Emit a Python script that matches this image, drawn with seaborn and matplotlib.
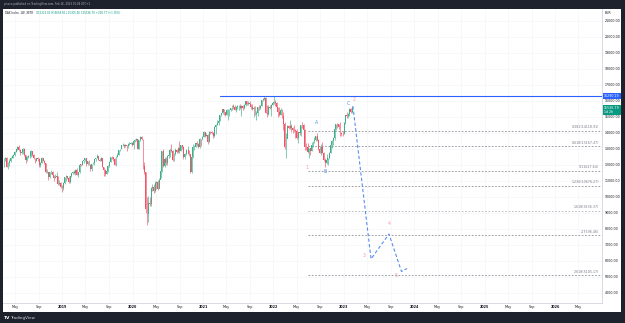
import numpy as np
import pandas as pd
import matplotlib
matplotlib.use('Agg')
import matplotlib.pyplot as plt
import matplotlib.dates as mdates
from matplotlib.patches import Rectangle
import seaborn as sns

# DAX weekly candles (one line per month)
first_open = 11913
closes = [
    # 2018
    12346, 12390, 11886, 12096,
    12241, 12442, 12540, 12580,
    12820, 12977, 13077, 12938,
    12724, 12766, 13010, 12580, 12306,
    12496, 12541, 12561, 12860,
    12615, 12424, 12210, 12394, 12364,
    11959, 12124, 12430, 12247,
    12111, 11524, 11554, 11201,
    11519, 11529, 11341, 11193, 11257,
    11271, 10788, 10866, 10634, 10559,
    # 2019
    10887, 11205, 11282, 11173,
    10907, 11299, 11457, 11516,
    11457, 11686, 11364, 11526,
    12010, 11999, 12222, 12315, 12412,
    12059, 12239, 12011, 11727,
    12045, 12096, 12340, 12399,
    12568, 12323, 12260, 12419, 11872,
    11694, 11412, 11611, 11939,
    12191, 12468, 12457, 12381, 12012,
    12511, 12633, 12894, 12961,
    13229, 13241, 13164, 13236,
    13166, 13282, 13318, 13337, 13219,
    # 2020
    13483, 13526, 13576, 12982,
    13513, 13745, 13579, 11890,
    11542, 9232, 8929, 9633, 9525,
    10565, 10626, 10336, 10862,
    10904, 10465, 11074, 11587,
    12848, 11949, 12331, 12089, 12528,
    12633, 12919, 12838, 12313,
    12674, 12901, 12765, 13033, 12842,
    13203, 13116, 12469, 12689,
    12906, 12909, 12645, 11556,
    12480, 13077, 13137, 13335, 13298,
    13114, 13630, 13587, 13719,
    # 2021
    14050, 13788, 13874, 13433,
    14056, 14050, 13993, 13786,
    14380, 14502, 14621, 14749, 15107,
    15234, 15460, 15280, 15136,
    15400, 15417, 15437, 15520, 15693,
    15581, 15448, 15607, 15650,
    15688, 15540, 15669, 15544,
    15761, 15977, 15808, 15852, 15781,
    15609, 15490, 15531, 15156,
    15206, 15587, 15543, 15688,
    16054, 16094, 16160, 15257, 15169,
    15623, 15531, 15756, 15885,
    # 2022
    15948, 15883, 15603, 15318, 15100,
    15425, 15042, 14567, 13094,
    13628, 14413, 14305, 14446,
    14284, 14163, 14143, 14098,
    13674, 14027, 13982, 14462, 14461,
    14199, 13127, 13119, 12813,
    13016, 12864, 13254, 13484,
    13573, 13795, 13544, 12971, 12761,
    13088, 12741, 12284, 12114,
    12273, 12438, 12731, 13243, 13460,
    13688, 14224, 14541, 14529,
    14371, 13986, 13940, 13924,
    # 2023
    14610, 15087, 15033, 15150, 15476, 15268, 15536.79,
]
highs = [
    # 2018
    12400, 12500, 12470, 12150,
    12360, 12480, 12600, 12670,
    12880, 13000, 13170, 13200,
    12960, 12880, 13030, 13060, 12590,
    12560, 12600, 12640, 12890,
    12880, 12670, 12430, 12440, 12450,
    12400, 12140, 12460, 12440,
    12290, 12130, 11720, 11560,
    11560, 11650, 11580, 11360, 11400,
    11560, 11280, 11040, 10920, 10700,
    # 2019
    10920, 11240, 11330, 11310,
    11290, 11320, 11470, 11620,
    11650, 11700, 11800, 11560,
    12030, 12060, 12240, 12320, 12440,
    12440, 12260, 12300, 12040,
    12070, 12140, 12370, 12420,
    12660, 12560, 12440, 12500, 12430,
    11880, 11760, 11740, 11950,
    12230, 12480, 12520, 12500, 12440,
    12520, 12700, 12930, 13000,
    13250, 13370, 13290, 13300,
    13240, 13330, 13420, 13440, 13390,
    # 2020
    13550, 13600, 13640, 13600,
    13570, 13800, 13800, 13590,
    12160, 11560, 9950, 10060, 9980,
    10580, 10820, 10790, 11000,
    10990, 11050, 11180, 11780,
    12870, 12950, 12480, 12480, 12630,
    12740, 13050, 13320, 12900,
    12700, 13060, 12950, 13080, 13460,
    13240, 13260, 13180, 12750,
    12960, 13140, 12930, 12680,
    12540, 13300, 13230, 13350, 13460,
    13370, 13660, 13630, 13800,
    # 2021
    14130, 14040, 14000, 13900,
    14080, 14110, 14110, 14060,
    14400, 14570, 14800, 14770, 15110,
    15250, 15500, 15500, 15320,
    15460, 15460, 15480, 15570, 15730,
    15800, 15730, 15650, 15700,
    15700, 15810, 15700, 15700,
    15790, 15990, 15980, 15950, 15990,
    15810, 15770, 15650, 15660,
    15330, 15600, 15700, 15740,
    16060, 16150, 16290, 16250, 15700,
    15750, 15750, 15800, 15920,
    # 2022
    16280, 16060, 15930, 15620, 15630,
    15530, 15470, 15290, 14680,
    13950, 14480, 14500, 14820,
    14560, 14380, 14470, 14210,
    14200, 14030, 14230, 14470, 14680,
    14560, 14240, 13330, 13340,
    13060, 13020, 13390, 13490,
    13700, 13800, 13950, 13590, 13180,
    13310, 13410, 12780, 12430,
    12670, 12440, 12800, 13300, 13520,
    13700, 14350, 14560, 14600,
    14530, 14680, 14050, 14090,
    # 2023
    14640, 15100, 15270, 15230, 15530, 15520, 15658.81,
]
lows = [
    # 2018
    11830, 12250, 11840, 11730,
    11930, 12180, 12400, 12440,
    12530, 12800, 12930, 12850,
    12600, 12650, 12680, 12550, 12100,
    12250, 12420, 12430, 12500,
    12560, 12330, 12100, 12200, 12250,
    11870, 11860, 12100, 12200,
    12030, 11450, 11450, 11050,
    11170, 11400, 11230, 11010, 11140,
    11120, 10750, 10700, 10560, 10280,
    # 2019
    10390, 10800, 11000, 11100,
    10860, 10880, 11230, 11440,
    11420, 11380, 11330, 11240,
    11500, 11900, 11980, 12100, 12260,
    11900, 11960, 11950, 11620,
    11620, 12020, 11990, 12220,
    12390, 12300, 12200, 12230, 11840,
    11270, 11270, 11390, 11520,
    11840, 12140, 12360, 12230, 11980,
    11900, 12490, 12600, 12870,
    12950, 13140, 13050, 13100,
    12870, 13020, 13230, 13280, 13180,
    # 2020
    12950, 13390, 13460, 12950,
    12960, 13450, 13560, 11720,
    11400, 9000, 8255, 8430, 9400,
    9400, 10350, 10220, 10320,
    10470, 10420, 10700, 11140,
    11550, 11850, 11830, 11990, 12000,
    12400, 12500, 12800, 12250,
    12240, 12600, 12700, 12700, 12700,
    12830, 13000, 12340, 12370,
    12590, 12690, 12550, 11450,
    11500, 12400, 12900, 13080, 13160,
    13020, 13060, 13140, 13550,
    # 2021
    13700, 13750, 13770, 13310,
    13430, 13930, 13890, 13660,
    13700, 13920, 14490, 14450, 14750,
    15030, 15150, 15100, 15040,
    15100, 14820, 15050, 15340, 15420,
    15490, 15430, 15300, 15450,
    15400, 15500, 15050, 15400,
    15480, 15690, 15720, 15750, 15700,
    15480, 15440, 15000, 15090,
    14820, 15070, 15430, 15450,
    15680, 15950, 16030, 15200, 15000,
    15080, 15450, 15060, 15750,
    # 2022
    15790, 15670, 15480, 14960, 15050,
    15080, 14930, 14140, 13000,
    12440, 13650, 14200, 14260,
    14060, 13980, 14040, 13690,
    13600, 13380, 13830, 13800, 14300,
    14170, 12940, 12930, 12700,
    12400, 12620, 12840, 13090,
    13330, 13500, 13500, 12940, 12700,
    12630, 12700, 12250, 11860,
    12050, 11950, 12340, 12700, 13040,
    13200, 13560, 14140, 14300,
    14200, 13800, 13790, 13780,
    # 2023
    13920, 14560, 14900, 14920, 15050, 15220, 15260,
]
last_bar = '2023-02-13'

# drawings
ath_price = 16290.19
ath_start = '2021-03-28'
fib_start = '2022-06-29'
fib_ratios = ['0.382', '0.618', '1', '1.236', '1.618', '2', '2.618']
fib_prices = [14118.91, 13167.47, 11627.64, 10676.27, 9136.37, 7596.46, 5105.17]
path_dates = ['2023-02-17', '2023-05-22', '2023-08-23', '2023-10-27', '2023-11-25']
path_prices = [15662, 6106, 7669, 5325, 5513]
wave_text = ['1', 'A', 'B', 'C', '2', '3', '4', '5']
wave_dates = ['2022-06-25', '2022-08-14', '2022-09-27', '2023-01-23',
              '2023-02-21', '2023-04-17', '2023-08-25', '2023-09-29']
wave_prices = [11856, 14650, 11544, 15838, 16044, 6294, 8294, 5044]

title = 'DAX Index, 1W, XETR'
ohlc_text = 'O15323.06 H15658.81 L15305.56 C15536.79 +268.77 (+1.76%)'
header = 'pisoco published on TradingView.com, Feb 16, 2023 15:04 UTC+1'

assert len(closes) == len(highs) == len(lows)
closes = np.array(closes, float)
highs = np.array(highs, float)
lows = np.array(lows, float)
opens = np.r_[first_open, closes[:-1]]
dates = pd.date_range(end=last_bar, periods=len(closes), freq='W-MON')

sns.set_theme(style='white')
plt.rcParams['font.family'] = ['DejaVu Sans']

W, H = 625, 323
fig = plt.figure(figsize=(W / 100, H / 100), dpi=100, facecolor='#1e222d')
fig.patches.append(Rectangle((3 / W, 1 - 312 / H), 618 / W, (312 - 8.5) / H,
                             transform=fig.transFigure, facecolor='white',
                             edgecolor='none', zorder=-5))
ax = fig.add_axes([3 / W, 1 - 302.7 / H, 599 / W, 294.2 / H])
ax.set_zorder(2)
ax.set_facecolor('white')

xmin = mdates.date2num(pd.Timestamp('2018-02-28'))
xmax = mdates.date2num(pd.Timestamp('2026-09-01'))
ax.set_xlim(xmin, xmax)
ax.set_ylim(3375, 21762)

# candles
x = mdates.date2num(dates)
up = closes >= opens
colors = np.where(up, '#3fae8a', '#ef5467')
ax.vlines(x, lows, highs, colors=colors, lw=0.45, zorder=3)
ax.bar(x, np.maximum(np.abs(closes - opens), 15), bottom=np.minimum(opens, closes),
       width=4.8, color=colors, lw=0, zorder=3)

# all time high line
ax.plot([mdates.date2num(pd.Timestamp(ath_start)), xmax], [ath_price, ath_price],
        color='#2962ff', lw=0.8, zorder=4)

# fib extension levels
fx0 = mdates.date2num(pd.Timestamp(fib_start))
for r, p in zip(fib_ratios, fib_prices):
    c = '#b2b5be' if r == '1.618' else '#8a8d96'
    ax.plot([fx0, xmax], [p, p], color=c, lw=0.6, ls=(0, (2, 2)), zorder=2)
    ax.text(xmax - 16, p + 90, f'{r}({p:.2f})', ha='right', va='bottom',
            fontsize=2.3, color='#787b86', zorder=4)

# projected path
px = mdates.date2num(pd.to_datetime(path_dates))
sns.lineplot(x=px, y=path_prices, ax=ax, color='#5b8def', lw=0.8,
             linestyle=(0, (3, 2)), sort=False, zorder=5)

# wave labels
for t, d, p in zip(wave_text, wave_dates, wave_prices):
    c = '#5b8def' if t.isalpha() else '#f59aa6'
    ax.text(mdates.date2num(pd.Timestamp(d)), p, t, ha='center', va='center',
            fontsize=3.4, color=c, zorder=6)

# axes styling
ax.yaxis.tick_right()
yt = np.arange(4000, 22000, 1000)
ax.set_yticks(yt)
ax.set_yticklabels([f'{v:.2f}' for v in yt])
tick_dates = pd.date_range('2018-05-01', '2026-05-01', freq='4MS')
ax.set_xticks(mdates.date2num(tick_dates))
ax.set_xticklabels([str(d.year) if d.month == 1 else d.strftime('%b') for d in tick_dates])
for lab, d in zip(ax.get_xticklabels(), tick_dates):
    if d.month == 1:
        lab.set_fontweight('bold')
ax.tick_params(axis='y', length=0, pad=2.2, labelsize=2.3, labelcolor='#131722')
ax.tick_params(axis='x', length=0, pad=1.6, labelsize=2.4, labelcolor='#131722')
ax.grid(True, color='#f2f3f6', lw=0.4)
for s in ['left', 'top']:
    ax.spines[s].set_visible(False)
for s in ['right', 'bottom']:
    ax.spines[s].set_color('#d1d4dc')
    ax.spines[s].set_linewidth(0.6)

# price scale labels
ax.text(1.003, ath_price, f'{ath_price:.2f}', transform=ax.get_yaxis_transform(),
        ha='left', va='center', fontsize=2.3, color='white', clip_on=False,
        bbox=dict(fc='#2962ff', ec='none', pad=0.8), zorder=7)
ax.text(1.003, closes[-1] - 120, f'{closes[-1]:.2f}\n1d 2h', transform=ax.get_yaxis_transform(),
        ha='left', va='center', fontsize=2.3, color='white', clip_on=False, linespacing=1.1,
        bbox=dict(fc='#089981', ec='none', pad=0.8), zorder=7)

fig.text(605 / W, 1 - 12.7 / H, 'EUR', fontsize=2.3, color='#131722', va='center')
fig.text(5 / W, 1 - 13 / H, title, fontsize=1.9, color='#131722', va='center')
fig.text(36 / W, 1 - 13 / H, ohlc_text, fontsize=1.9, color='#089981', va='center')
fig.text(4 / W, 1 - 4.3 / H, header, fontsize=1.9, color='#b2b5be', va='center')
fig.text(4 / W, 1 - 318 / H, 'TV', fontsize=3.2, color='white', fontweight='bold', va='center')
fig.text(10.5 / W, 1 - 318 / H, 'TradingView', fontsize=3.0, color='#d1d4dc', va='center')

fig.savefig('out.png', dpi=100, facecolor=fig.get_facecolor())
